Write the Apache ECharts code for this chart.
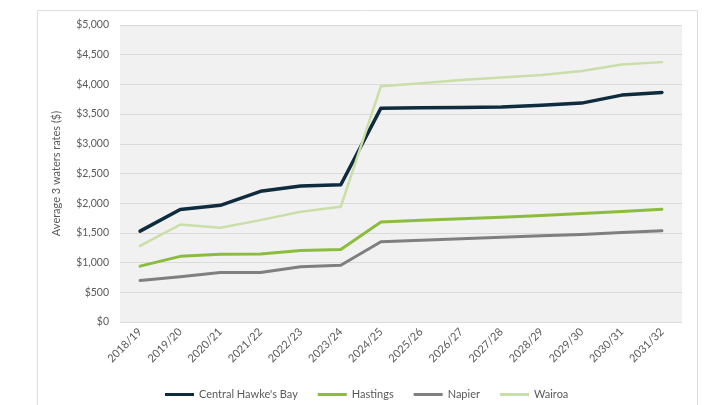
<!DOCTYPE html>
<html>
<head>
<meta charset="utf-8">
<script src="https://cdn.jsdelivr.net/npm/echarts@6/dist/echarts.min.js"></script>
<style>
  html, body { margin: 0; padding: 0; background: #ffffff; }
  #chart { width: 705px; height: 405px; }
</style>
</head>
<body>
<div id="chart"></div>
<script>
// Financial years
const years = ['2018/19', '2019/20', '2020/21', '2021/22', '2022/23', '2023/24', '2024/25',
  '2025/26', '2026/27', '2027/28', '2028/29', '2029/30', '2030/31', '2031/32'];

// Average 3 waters rates ($) by council
const centralHawkesBay = [1530, 1895, 1965, 2200, 2290, 2310, 3600, 3605, 3610, 3620, 3650, 3685, 3820, 3865];
const hastings = [940, 1105, 1140, 1145, 1205, 1220, 1685, 1715, 1740, 1765, 1795, 1825, 1860, 1900];
const napier = [700, 760, 835, 835, 930, 955, 1350, 1375, 1400, 1425, 1450, 1475, 1505, 1535];
const wairoa = [1280, 1640, 1585, 1715, 1855, 1940, 3970, 4020, 4075, 4115, 4160, 4225, 4335, 4375];

const yTicks = { min: 0, max: 5000, interval: 500 };

const chart = echarts.init(document.getElementById('chart'));
const textColor = '#595959';
const fontFamily = 'Lato, "Open Sans", sans-serif';

function line(name, data, color, width) {
  return {
    name: name,
    type: 'line',
    data: data,
    symbol: 'none',
    smooth: false,
    lineStyle: { color: color, width: width, join: 'round', cap: 'round' },
    itemStyle: { color: color }
  };
}

chart.setOption({
  animation: false,
  backgroundColor: '#ffffff',
  textStyle: { fontFamily: fontFamily },
  graphic: [{
    type: 'rect',
    shape: { x: 37.5, y: 10.5, width: 660, height: 410 },
    style: { fill: 'none', stroke: '#dedede', lineWidth: 1 },
    z: -10
  }],
  grid: {
    left: 120, right: 23, top: 25, bottom: 83,
    show: true, backgroundColor: '#f1f1f1', borderWidth: 0
  },
  legend: {
    left: 160, top: 384,
    icon: 'rect', itemWidth: 29, itemHeight: 3, itemGap: 20,
    textStyle: { color: textColor, fontSize: 11, fontFamily: fontFamily },
    data: ["Central Hawke's Bay", 'Hastings', 'Napier', 'Wairoa']
  },
  xAxis: {
    type: 'category',
    data: years,
    boundaryGap: true,
    axisLine: { show: false },
    axisTick: { show: false },
    axisLabel: { rotate: 45, color: textColor, fontSize: 11, margin: 8, interval: 0, fontFamily: fontFamily }
  },
  yAxis: {
    type: 'value',
    min: yTicks.min, max: yTicks.max, interval: yTicks.interval,
    name: 'Average 3 waters rates ($)',
    nameLocation: 'middle',
    nameGap: 58,
    nameTextStyle: { color: textColor, fontSize: 11, fontFamily: fontFamily },
    axisLine: { show: false },
    axisTick: { show: false },
    splitLine: { lineStyle: { color: '#dadada', width: 1 } },
    axisLabel: {
      color: textColor, fontSize: 10.5, margin: 11, fontFamily: fontFamily,
      formatter: v => '$' + v.toLocaleString('en-US')
    }
  },
  series: [
    line("Central Hawke's Bay", centralHawkesBay, '#0f2b3e', 3.5),
    line('Hastings', hastings, '#8cbc3e', 3),
    line('Napier', napier, '#7f7f7f', 3),
    line('Wairoa', wairoa, '#cadea8', 2.5)
  ]
});
</script>
</body>
</html>
